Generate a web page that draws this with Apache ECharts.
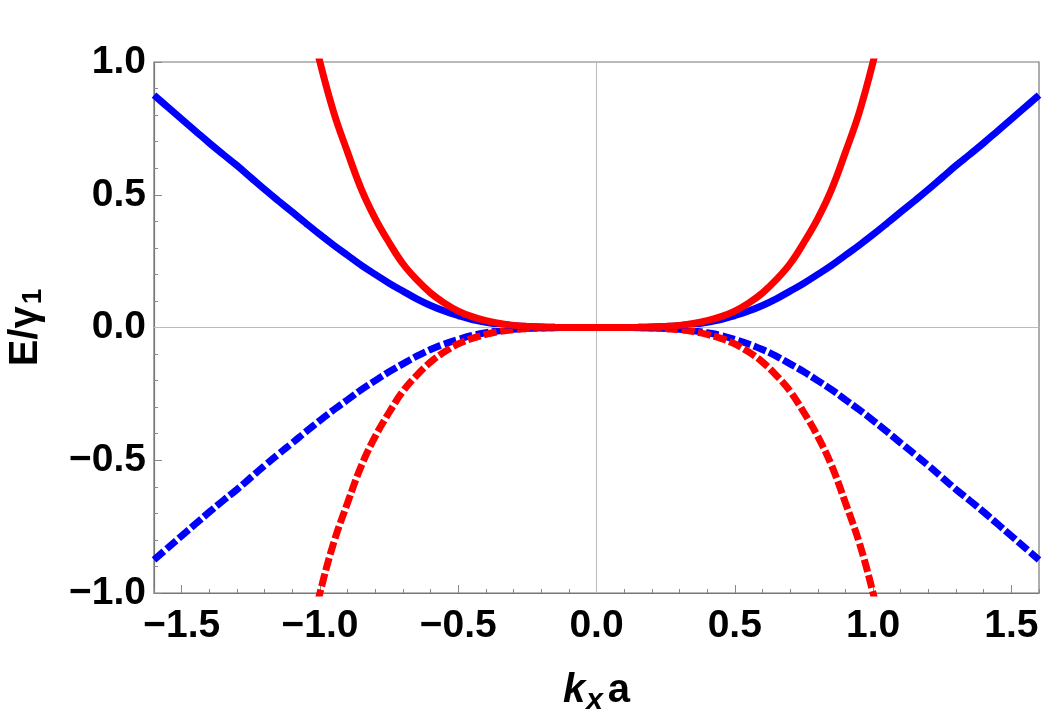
<!DOCTYPE html>
<html>
<head>
<meta charset="utf-8">
<script src="https://cdn.jsdelivr.net/npm/echarts@6/dist/echarts.min.js"></script>
<style>
  html, body { margin: 0; padding: 0; background: #fff; }
  #chart { width: 1042px; height: 715px; }
</style>
</head>
<body>
<div id="chart"></div>
<script>
// k_x a sample points (every 0.05)
const kBlue = [-1.6, -1.55, -1.5, -1.45, -1.4, -1.35, -1.3, -1.25, -1.2, -1.15, -1.1, -1.05, -1.0,
  -0.95, -0.9, -0.85, -0.8, -0.75, -0.7, -0.65, -0.6, -0.55, -0.5, -0.45, -0.4, -0.35, -0.3,
  -0.25, -0.2, -0.15, -0.1, -0.05, 0, 0.05, 0.1, 0.15, 0.2, 0.25, 0.3, 0.35, 0.4, 0.45, 0.5,
  0.55, 0.6, 0.65, 0.7, 0.75, 0.8, 0.85, 0.9, 0.95, 1.0, 1.05, 1.1, 1.15, 1.2, 1.25, 1.3, 1.35,
  1.4, 1.45, 1.5, 1.55, 1.6];
const blueUpper = [0.875, 0.83, 0.785, 0.74, 0.695, 0.652, 0.61, 0.565, 0.52, 0.477, 0.435, 0.392, 0.35,
  0.31, 0.272, 0.234, 0.2, 0.167, 0.137, 0.108, 0.083, 0.062, 0.045, 0.03, 0.02, 0.012, 0.007,
  0.0035, 0.0015, 0.0005, 0.0001, 0, 0, 0, 0.0001, 0.0005, 0.0015, 0.0035, 0.007, 0.012, 0.02, 0.03, 0.045,
  0.062, 0.083, 0.108, 0.137, 0.167, 0.2, 0.234, 0.272, 0.31, 0.35, 0.392, 0.435, 0.477, 0.52, 0.565, 0.61, 0.652,
  0.695, 0.74, 0.785, 0.83, 0.875];
const blueLower = [-0.875, -0.83, -0.785, -0.74, -0.695, -0.652, -0.61, -0.565, -0.52, -0.477, -0.435, -0.392, -0.35,
  -0.31, -0.272, -0.234, -0.2, -0.167, -0.137, -0.108, -0.083, -0.062, -0.045, -0.03, -0.02, -0.012, -0.007,
  -0.0035, -0.0015, -0.0005, -0.0001, 0, 0, 0, -0.0001, -0.0005, -0.0015, -0.0035, -0.007, -0.012, -0.02, -0.03, -0.045,
  -0.062, -0.083, -0.108, -0.137, -0.167, -0.2, -0.234, -0.272, -0.31, -0.35, -0.392, -0.435, -0.477, -0.52, -0.565, -0.61, -0.652,
  -0.695, -0.74, -0.785, -0.83, -0.875];

const kRed = [-1.1, -1.05, -1.0, -0.95, -0.9, -0.85, -0.8, -0.75, -0.7, -0.65, -0.6, -0.55, -0.5,
  -0.45, -0.4, -0.35, -0.3, -0.25, -0.2, -0.15, -0.1, -0.05, 0, 0.05, 0.1, 0.15, 0.2, 0.25, 0.3,
  0.35, 0.4, 0.45, 0.5, 0.55, 0.6, 0.65, 0.7, 0.75, 0.8, 0.85, 0.9, 0.95, 1.0, 1.05, 1.1];
const redUpper = [1.46, 1.22, 1.0, 0.81, 0.66, 0.52, 0.41, 0.32, 0.24, 0.18, 0.13, 0.092, 0.062,
  0.041, 0.026, 0.015, 0.008, 0.004, 0.0016, 0.0005, 0.0001, 0, 0, 0, 0.0001, 0.0005, 0.0016, 0.004, 0.008,
  0.015, 0.026, 0.041, 0.062, 0.092, 0.13, 0.18, 0.24, 0.32, 0.41, 0.52, 0.66, 0.81, 1.0, 1.22, 1.46];
const redLower = [-1.46, -1.22, -1.0, -0.81, -0.66, -0.52, -0.41, -0.32, -0.24, -0.18, -0.13, -0.092, -0.062,
  -0.041, -0.026, -0.015, -0.008, -0.004, -0.0016, -0.0005, -0.0001, 0, 0, 0, -0.0001, -0.0005, -0.0016, -0.004, -0.008,
  -0.015, -0.026, -0.041, -0.062, -0.092, -0.13, -0.18, -0.24, -0.32, -0.41, -0.52, -0.66, -0.81, -1.0, -1.22, -1.46];

// tick marks
const xMajorTicks = [-1.5, -1.0, -0.5, 0, 0.5, 1.0, 1.5];
const xMinorTicks = [-1.6, -1.4, -1.3, -1.2, -1.1, -0.9, -0.8, -0.7, -0.6, -0.4, -0.3, -0.2, -0.1,
  0.1, 0.2, 0.3, 0.4, 0.6, 0.7, 0.8, 0.9, 1.1, 1.2, 1.3, 1.4, 1.6];

const FONT = '"Liberation Sans", Arial, sans-serif';
const BLUE = '#0000ff';
const RED = '#ff0000';

function pairs(xs, ys) {
  return xs.map((x, i) => [x, ys[i]]);
}
function fmt(v) {
  return v.toFixed(1).replace('-', '\u2212');
}

const chart = echarts.init(document.getElementById('chart'), null, { renderer: 'canvas' });

const curve = (name, xs, ys, color, dashed, z) => ({
  name: name,
  type: 'line',
  data: pairs(xs, ys),
  showSymbol: false,
  smooth: 0.4,
  clip: true,
  z: z,
  silent: true,
  lineStyle: {
    color: color,
    width: 7,
    type: dashed ? [13, 3.5] : 'solid',
    cap: 'butt'
  }
});

const option = {
  animation: false,
  backgroundColor: '#fff',
  grid: {
    left: 154, right: 3, top: 62, bottom: 122,
    outerBoundsMode: 'none',
    show: true, borderColor: '#777', borderWidth: 1.2
  },
  xAxis: [{
    type: 'value',
    min: -1.6, max: 1.6,
    axisLine: { onZero: false, lineStyle: { color: '#777', width: 1.2 } },
    axisTick: { inside: true, length: 8, customValues: xMajorTicks, lineStyle: { color: '#888' } },
    axisLabel: {
      customValues: xMajorTicks, margin: 14, formatter: fmt,
      color: '#000', fontFamily: FONT, fontWeight: 'bold', fontSize: 39
    },
    splitLine: { show: false },
    name: '{k|k}{x|x}{a|a}',
    nameLocation: 'middle',
    nameGap: 78,
    nameTextStyle: {
      rich: {
        k: { fontFamily: FONT, fontWeight: 'bold', fontStyle: 'italic', fontSize: 40, color: '#000' },
        x: { fontFamily: FONT, fontWeight: 'bold', fontStyle: 'italic', fontSize: 30, color: '#000', lineHeight: 8, padding: [20, 5, 0, 1] },
        a: { fontFamily: FONT, fontWeight: 'bold', fontSize: 40, color: '#000' }
      }
    }
  }, {
    type: 'value',
    min: -1.6, max: 1.6,
    position: 'bottom',
    axisLine: { show: false, onZero: false },
    axisTick: { inside: true, length: 4, customValues: xMinorTicks, lineStyle: { color: '#888' } },
    axisLabel: { show: false },
    splitLine: { show: false }
  }],
  yAxis: {
    type: 'value',
    min: -1, max: 1, interval: 0.5,
    axisLine: { show: true, onZero: false, lineStyle: { color: '#777', width: 1.2 } },
    axisTick: { inside: true, length: 8, lineStyle: { color: '#888' } },
    minorTick: { show: true, splitNumber: 5, length: 4, lineStyle: { color: '#888' } },
    axisLabel: {
      margin: 8, formatter: fmt,
      color: '#000', fontFamily: FONT, fontWeight: 'bold', fontSize: 39
    },
    splitLine: { show: false },
    name: '{e|E/\u03b3}{one|1}',
    nameLocation: 'middle',
    nameRotate: 90,
    nameGap: 108,
    nameTextStyle: {
      rich: {
        e: { fontFamily: FONT, fontWeight: 'bold', fontSize: 40, color: '#000' },
        one: { fontFamily: FONT, fontWeight: 'bold', fontSize: 28, color: '#000', lineHeight: 8, padding: [14, 0, 0, 2] }
      }
    }
  },
  series: [
    {
      type: 'line', data: [], silent: true, z: 1,
      markLine: {
        silent: true, symbol: 'none', animation: false,
        label: { show: false },
        lineStyle: { color: '#bbb', type: 'solid', width: 1 },
        data: [{ xAxis: 0 }, { yAxis: 0 }]
      }
    },
    curve('blue lower', kBlue, blueLower, BLUE, true, 2),
    curve('red lower', kRed, redLower, RED, true, 3),
    curve('blue upper', kBlue, blueUpper, BLUE, false, 4),
    curve('red upper', kRed, redUpper, RED, false, 5)
  ]
};

chart.setOption(option);
</script>
</body>
</html>
